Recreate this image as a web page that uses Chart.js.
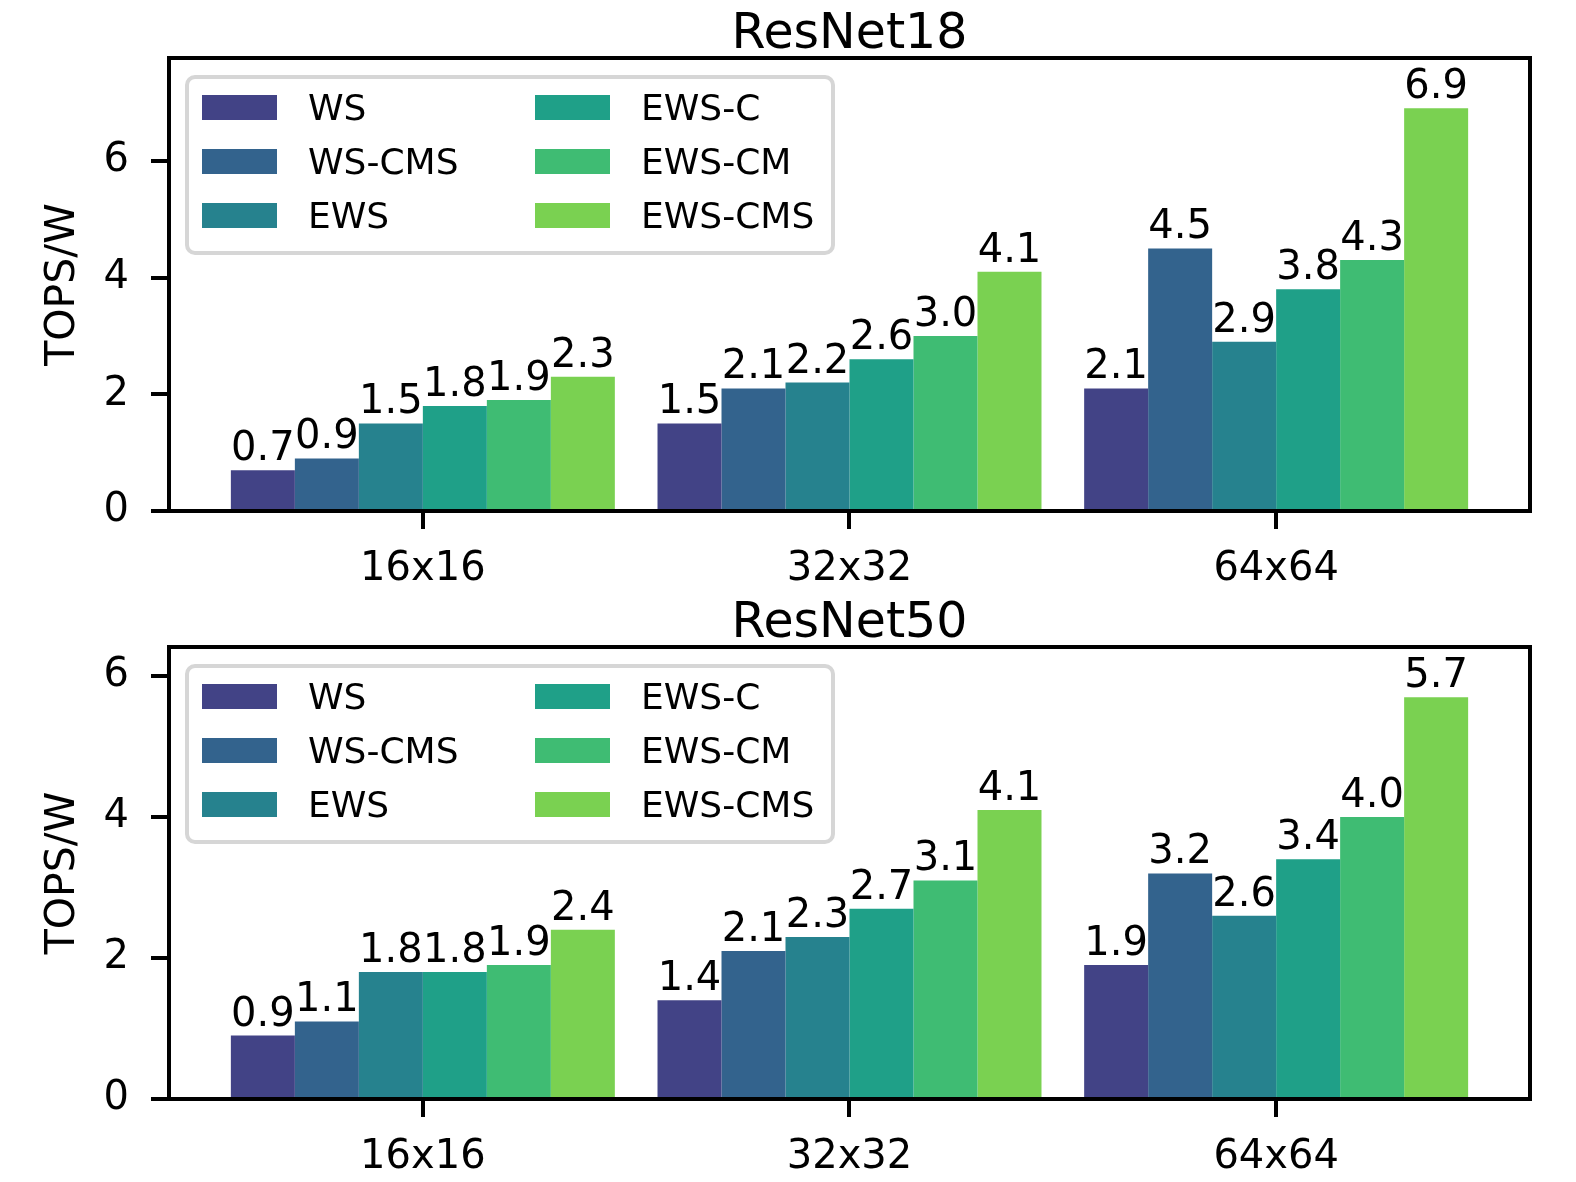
<!DOCTYPE html>
<html>
<head>
<meta charset="utf-8">
<script src="https://cdn.jsdelivr.net/npm/chart.js@4/dist/chart.umd.min.js"></script>
<style>
  html, body { margin: 0; padding: 0; background: #fff; }
  .box { position: absolute; left: 0; width: 1576px; }
  #b1 { top: 0; height: 595px; }
  #b2 { top: 595px; height: 587px; }
</style>
</head>
<body>
<div class="box" id="b1"><canvas id="chart18"></canvas></div>
<div class="box" id="b2"><canvas id="chart50"></canvas></div>
<script>
// categorías y series
var categories = ['16x16', '32x32', '64x64'];
var seriesNames = ['WS', 'WS-CMS', 'EWS', 'EWS-C', 'EWS-CM', 'EWS-CMS'];
var seriesColors = ['#424386', '#33638d', '#26828e', '#1fa088', '#3fbc73', '#7ad151'];
var yTicks = [0, 2, 4, 6];

// ResNet18
var r18_WS = [0.7, 1.5, 2.1];
var r18_WSCMS = [0.9, 2.1, 4.5];
var r18_EWS = [1.5, 2.2, 2.9];
var r18_EWSC = [1.8, 2.6, 3.8];
var r18_EWSCM = [1.9, 3.0, 4.3];
var r18_EWSCMS = [2.3, 4.1, 6.9];

// ResNet50
var r50_WS = [0.9, 1.4, 1.9];
var r50_WSCMS = [1.1, 2.1, 3.2];
var r50_EWS = [1.8, 2.3, 2.6];
var r50_EWSC = [1.8, 2.7, 3.4];
var r50_EWSCM = [1.9, 3.1, 4.0];
var r50_EWSCMS = [2.4, 4.1, 5.7];

var FONT = 'DejaVu Sans';

// Etiquetas encima de cada barra
var valueLabels = {
    id: 'valueLabels',
    afterDatasetsDraw: function (chart) {
        var ctx = chart.ctx;
        ctx.save();
        ctx.font = '40px "' + FONT + '"';
        ctx.fillStyle = '#000';
        ctx.textAlign = 'center';
        ctx.textBaseline = 'alphabetic';
        chart.data.datasets.forEach(function (ds, i) {
            chart.getDatasetMeta(i).data.forEach(function (bar, j) {
                ctx.fillText(ds.data[j].y.toFixed(1), bar.x, bar.y - 10);
            });
        });
        ctx.restore();
    }
};

// Marco, título y leyenda en dos columnas
var frameAndLegend = {
    id: 'frameAndLegend',
    afterDraw: function (chart, args, opts) {
        var ctx = chart.ctx;
        var a = chart.chartArea;
        ctx.save();
        ctx.strokeStyle = '#000';
        ctx.lineWidth = 4;
        ctx.strokeRect(a.left, a.top, a.right - a.left, a.bottom - a.top);

        ctx.font = '49px "' + FONT + '"';
        ctx.fillStyle = '#000';
        ctx.textAlign = 'center';
        ctx.textBaseline = 'alphabetic';
        ctx.fillText(opts.title, (a.left + a.right) / 2, a.top - 10);

        // leyenda
        var bx = a.left + 18, by = a.top + 19, bw = 646, bh = 176;
        ctx.beginPath();
        ctx.roundRect(bx, by, bw, bh, 8);
        ctx.fillStyle = 'rgba(255,255,255,0.85)';
        ctx.fill();
        ctx.strokeStyle = '#d6d6d6';
        ctx.lineWidth = 4;
        ctx.stroke();

        ctx.font = '36px "' + FONT + '"';
        ctx.textAlign = 'left';
        ctx.textBaseline = 'middle';
        chart.data.datasets.forEach(function (ds, i) {
            var col = Math.floor(i / 3), row = i % 3;
            var sx = a.left + 33 + col * 333;
            var sy = a.top + 37 + row * 54;
            ctx.fillStyle = ds.backgroundColor;
            ctx.fillRect(sx, sy, 75, 25);
            ctx.fillStyle = '#000';
            ctx.fillText(ds.label, sx + 106, sy + 16);
        });
        ctx.restore();
    }
};

function makeChart(id, title, seriesData, yMax, plotTop, plotBottom, canvasH) {
    var datasets = seriesNames.map(function (name, i) {
        return {
            label: name,
            data: categories.map(function (c, j) { return { x: j, y: seriesData[i][j] }; }),
            backgroundColor: seriesColors[i],
            borderWidth: 0,
            categoryPercentage: 0.9,
            barPercentage: 1.0
        };
    });
    return new Chart(document.getElementById(id).getContext('2d'), {
        type: 'bar',
        data: { datasets: datasets },
        plugins: [valueLabels, frameAndLegend],
        options: {
            responsive: true,
            maintainAspectRatio: false,
            animation: false,
            layout: { padding: { top: plotTop, right: 46, left: 0, bottom: 0 } },
            plugins: {
                legend: { display: false },
                tooltip: { enabled: false },
                frameAndLegend: { title: title }
            },
            scales: {
                x: {
                    type: 'linear',
                    offset: false,
                    min: -0.595,
                    max: 2.595,
                    afterBuildTicks: function (s) {
                        s.ticks = categories.map(function (c, j) { return { value: j }; });
                    },
                    afterFit: function (s) { s.height = canvasH - plotBottom; },
                    border: { display: false },
                    grid: { offset: false, drawOnChartArea: false, drawTicks: true, tickLength: 18, lineWidth: 4, color: '#000' },
                    ticks: {
                        autoSkip: false,
                        maxRotation: 0,
                        padding: 17,
                        color: '#000',
                        font: { family: FONT, size: 40 },
                        callback: function (v) { return categories[v]; }
                    }
                },
                y: {
                    min: 0,
                    max: yMax,
                    afterBuildTicks: function (s) {
                        s.ticks = yTicks.filter(function (t) { return t <= yMax; }).map(function (t) { return { value: t }; });
                    },
                    afterFit: function (s) { s.width = 169; },
                    border: { display: false },
                    grid: { drawOnChartArea: false, drawTicks: true, tickLength: 18, lineWidth: 4, color: '#000' },
                    ticks: {
                        padding: 22,
                        color: '#000',
                        font: { family: FONT, size: 40 }
                    },
                    title: {
                        display: true,
                        text: 'TOPS/W',
                        color: '#000',
                        font: { family: FONT, size: 41 },
                        padding: { top: 39, bottom: 0 }
                    }
                }
            }
        }
    });
}

makeChart('chart18', 'ResNet18',
    [r18_WS, r18_WSCMS, r18_EWS, r18_EWSC, r18_EWSCM, r18_EWSCMS],
    7.7625, 58, 511, 595);

makeChart('chart50', 'ResNet50',
    [r50_WS, r50_WSCMS, r50_EWS, r50_EWSC, r50_EWSCM, r50_EWSCMS],
    6.4125, 52, 504, 587);
</script>
</body>
</html>
